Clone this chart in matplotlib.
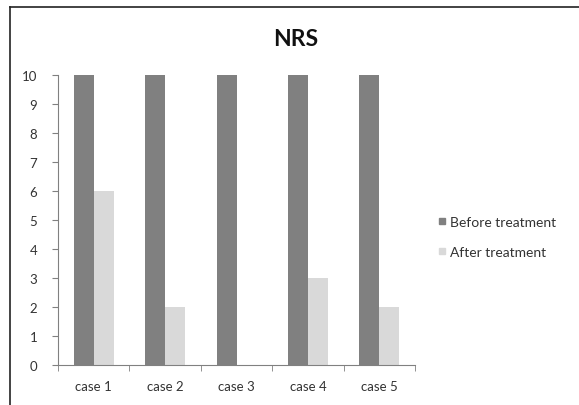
import matplotlib
matplotlib.use('Agg')
import matplotlib.pyplot as plt
import numpy as np
from matplotlib.lines import Line2D

plt.rcParams['font.family'] = ['Lato', 'DejaVu Sans']

# data
categories = ['case 1', 'case 2', 'case 3', 'case 4', 'case 5']
before = [10, 10, 10, 10, 10]
after = [6, 2, 0, 3, 2]
series_names = ['Before treatment', 'After treatment']
colors = ['#808080', '#d9d9d9']

fig = plt.figure(figsize=(5.79, 4.06), dpi=100)
ax = fig.add_axes([58 / 579, 1 - 366 / 406, (415 - 58) / 579, (366 - 76) / 406])

x = np.arange(len(categories))
w = 0.28
ax.bar(x - w / 2, before, width=w, color=colors[0], label=series_names[0])
ax.bar(x + w / 2, after, width=w, color=colors[1], label=series_names[1])

ax.set_xlim(-0.5, len(categories) - 0.5)
ax.set_ylim(0, 10)
ax.set_yticks(range(0, 11))
ax.set_xticks(x)
ax.set_xticklabels(categories)
ax.set_xticks(np.arange(-0.5, len(categories)), minor=True)
ax.tick_params(axis='x', which='major', length=0, pad=11, labelsize=9.5, labelcolor='#333333')
ax.tick_params(axis='x', which='minor', length=4, color='#808080', direction='out')
ax.tick_params(axis='y', length=4, color='#808080', labelsize=9.5, labelcolor='#333333', pad=11)

for s in ['top', 'right']:
    ax.spines[s].set_visible(False)
for s in ['left', 'bottom']:
    ax.spines[s].set_color('#808080')
    ax.spines[s].set_linewidth(0.8)

fig.text(296 / 579, 1 - 40 / 406, 'NRS', ha='center', va='center',
         fontsize=16.5, fontweight='bold', color='#111111')

handles = [Line2D([0], [0], marker='s', linestyle='none', markersize=5,
                  markerfacecolor=c, markeredgecolor=c) for c in colors]
fig.legend(handles, series_names, loc='center left',
           bbox_to_anchor=(425 / 579, 1 - 238 / 406), frameon=False,
           fontsize=10, handlelength=0.6, handletextpad=0.3,
           labelspacing=1.25, labelcolor='#333333')

# outer frame (top and left edges visible)
fig.add_artist(Line2D([10 / 579, 1], [1 - 8 / 406, 1 - 8 / 406],
                      transform=fig.transFigure, color='#222222', lw=1.2))
fig.add_artist(Line2D([10 / 579, 10 / 579], [0, 1 - 8 / 406],
                      transform=fig.transFigure, color='#222222', lw=1.2))

fig.savefig('out.png', dpi=100)
